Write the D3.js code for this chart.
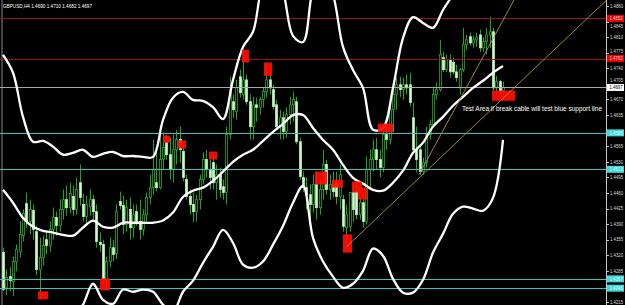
<!DOCTYPE html>
<html><head><meta charset="utf-8">
<script src="https://cdn.jsdelivr.net/npm/d3@7"></script>
<style>html,body{margin:0;padding:0;background:#000;overflow:hidden}</style>
</head><body><svg id="c" width="625" height="305"></svg>
<script>
// ---- data (GBPUSD, H4) ----
const symbolTitle = "GBPUSD,H4 1.4690 1.4710 1.4682 1.4697";
const note = "Test Area if break cable will test blue support line";
const open = [
1.4326,1.4248,1.4272,1.4261,1.4306,1.4328,1.4364,1.4436,1.4396,1.4421,
1.4373,1.4288,1.4315,1.4355,1.4342,1.4378,1.4405,1.4387,1.4423,1.4445,
1.4427,1.4452,1.4423,1.4483,1.4434,1.4407,1.4429,1.4445,1.4418,1.4349,
1.4344,1.4261,1.4306,1.4337,1.4324,1.4441,1.4432,1.4389,1.4423,1.4382,
1.4418,1.4396,1.4378,1.4411,1.4450,1.4472,1.4483,1.4472,1.4535,1.4573,
1.4546,1.4513,1.4557,1.4580,1.4553,1.4490,1.4452,1.4434,1.4418,1.4445,
1.4490,1.4535,1.4513,1.4528,1.4483,1.4501,1.4474,1.4461,1.4591,1.4665,
1.4643,1.4721,1.4681,1.4714,1.4665,1.4609,1.4658,1.4652,1.4670,1.4688,
1.4714,1.4692,1.4658,1.4609,1.4629,1.4598,1.4636,1.4658,1.4665,1.4575,
1.4495,1.4472,1.4456,1.4434,1.4479,1.4427,1.4468,1.4524,1.4468,1.4479,
1.4483,1.4452,1.4445,1.4382,1.4385,1.4461,1.4463,1.4411,1.4438,1.4396,
1.4513,1.4535,1.4557,1.4535,1.4517,1.4591,1.4580,1.4647,1.4681,1.4703,
1.4692,1.4703,1.4703,1.4629,1.4557,1.4557,1.4508,1.4528,1.4591,1.4614,
1.4681,1.4692,1.4764,1.4737,1.4759,1.4753,1.4732,1.4696,1.4737,1.4793,
1.4811,1.4797,1.4804,1.4815,1.4786,1.4800,1.4815,1.4822,1.4696,1.4710,
1.4690];
const high = [
1.4337,1.4288,1.4293,1.4317,1.4344,1.4396,1.4423,1.4461,1.4445,1.4434,
1.4387,1.4360,1.4364,1.4373,1.4396,1.4427,1.4418,1.4445,1.4468,1.4477,
1.4483,1.4477,1.4495,1.4524,1.4459,1.4454,1.4468,1.4456,1.4434,1.4371,
1.4355,1.4317,1.4360,1.4355,1.4434,1.4463,1.4454,1.4445,1.4450,1.4434,
1.4434,1.4445,1.4423,1.4461,1.4501,1.4580,1.4557,1.4591,1.4596,1.4591,
1.4584,1.4591,1.4602,1.4609,1.4569,1.4501,1.4468,1.4461,1.4456,1.4501,
1.4551,1.4557,1.4535,1.4546,1.4524,1.4517,1.4490,1.4609,1.4721,1.4681,
1.4714,1.4737,1.4782,1.4726,1.4681,1.4676,1.4674,1.4676,1.4696,1.4753,
1.4726,1.4703,1.4670,1.4647,1.4643,1.4652,1.4676,1.4688,1.4676,1.4584,
1.4508,1.4495,1.4479,1.4501,1.4508,1.4490,1.4557,1.4535,1.4501,1.4508,
1.4508,1.4524,1.4456,1.4434,1.4463,1.4479,1.4479,1.4450,1.4445,1.4542,
1.4557,1.4580,1.4584,1.4557,1.4614,1.4618,1.4670,1.4703,1.4719,1.4721,
1.4719,1.4726,1.4730,1.4663,1.4609,1.4569,1.4539,1.4609,1.4625,1.4699,
1.4708,1.4804,1.4777,1.4771,1.4771,1.4764,1.4748,1.4741,1.4831,1.4815,
1.4820,1.4813,1.4820,1.4827,1.4809,1.4831,1.4856,1.4831,1.4723,1.4714,
1.4710];
const low = [
1.4239,1.4230,1.4239,1.4228,1.4284,1.4315,1.4351,1.4382,1.4367,1.4355,
1.4275,1.4221,1.4297,1.4322,1.4328,1.4355,1.4364,1.4373,1.4400,1.4409,
1.4414,1.4409,1.4411,1.4432,1.4396,1.4387,1.4409,1.4400,1.4337,1.4328,
1.4257,1.4243,1.4293,1.4306,1.4311,1.4423,1.4367,1.4373,1.4355,1.4360,
1.4387,1.4355,1.4364,1.4396,1.4434,1.4456,1.4463,1.4468,1.4513,1.4535,
1.4490,1.4483,1.4524,1.4528,1.4486,1.4445,1.4411,1.4394,1.4396,1.4423,
1.4479,1.4495,1.4468,1.4468,1.4445,1.4450,1.4445,1.4434,1.4580,1.4629,
1.4625,1.4674,1.4670,1.4658,1.4580,1.4580,1.4620,1.4636,1.4652,1.4674,
1.4681,1.4647,1.4602,1.4580,1.4580,1.4584,1.4614,1.4620,1.4569,1.4490,
1.4463,1.4423,1.4385,1.4416,1.4400,1.4411,1.4445,1.4456,1.4445,1.4450,
1.4434,1.4423,1.4373,1.4328,1.4373,1.4396,1.4400,1.4400,1.4382,1.4389,
1.4472,1.4508,1.4513,1.4495,1.4506,1.4557,1.4569,1.4596,1.4647,1.4676,
1.4670,1.4681,1.4654,1.4553,1.4506,1.4501,1.4501,1.4517,1.4580,1.4607,
1.4670,1.4688,1.4732,1.4732,1.4719,1.4726,1.4710,1.4681,1.4732,1.4782,
1.4791,1.4786,1.4788,1.4777,1.4777,1.4771,1.4786,1.4688,1.4681,1.4681,
1.4682];
const close = [
1.4243,1.4270,1.4263,1.4306,1.4333,1.4367,1.4414,1.4396,1.4423,1.4378,
1.4288,1.4315,1.4342,1.4342,1.4378,1.4405,1.4387,1.4423,1.4445,1.4427,
1.4459,1.4423,1.4468,1.4450,1.4407,1.4434,1.4445,1.4418,1.4351,1.4344,
1.4266,1.4306,1.4337,1.4322,1.4418,1.4432,1.4389,1.4427,1.4382,1.4411,
1.4396,1.4378,1.4411,1.4450,1.4472,1.4513,1.4472,1.4535,1.4562,1.4546,
1.4513,1.4557,1.4580,1.4557,1.4495,1.4452,1.4434,1.4418,1.4445,1.4490,
1.4535,1.4513,1.4495,1.4483,1.4501,1.4468,1.4461,1.4591,1.4692,1.4647,
1.4696,1.4685,1.4714,1.4665,1.4609,1.4658,1.4652,1.4670,1.4688,1.4714,
1.4696,1.4654,1.4609,1.4629,1.4598,1.4636,1.4658,1.4670,1.4575,1.4497,
1.4472,1.4456,1.4434,1.4479,1.4427,1.4468,1.4524,1.4468,1.4479,1.4463,
1.4452,1.4501,1.4385,1.4411,1.4461,1.4423,1.4411,1.4438,1.4396,1.4513,
1.4535,1.4557,1.4535,1.4517,1.4591,1.4580,1.4647,1.4681,1.4703,1.4692,
1.4703,1.4696,1.4663,1.4557,1.4535,1.4508,1.4528,1.4591,1.4614,1.4681,
1.4692,1.4771,1.4737,1.4759,1.4732,1.4732,1.4719,1.4737,1.4793,1.4804,
1.4797,1.4804,1.4809,1.4786,1.4800,1.4815,1.4822,1.4696,1.4710,1.4688,
1.4697];

// Bollinger bands read every 3rd bar
const bandStep = 3;
const upperBand = [1.4770,1.4730,1.4631,1.4575,1.4577,1.4564,1.4546,1.4550,1.4557,1.4541,
1.4548,1.4552,1.4543,1.4543,1.4541,1.4541,1.4624,1.4674,1.4687,1.4669,
1.4667,1.4653,1.4626,1.4714,1.4788,1.4822,1.4927,1.4950,1.4911,1.4813,
1.4799,1.4916,1.4950,1.4905,1.4788,1.4736,1.4696,1.4602,1.4606,1.4696,
1.4808,1.4855,1.4842,1.4831,1.4871,1.4905,1.4934,1.4956,1.4972,1.4983,1.4994];
const midBand = [1.4467,1.4438,1.4404,1.4384,1.4375,1.4371,1.4366,1.4364,1.4382,1.4398,
1.4384,1.4382,1.4393,1.4393,1.4393,1.4393,1.4398,1.4416,1.4451,1.4465,
1.4472,1.4487,1.4508,1.4530,1.4546,1.4557,1.4577,1.4597,1.4615,1.4635,
1.4635,1.4606,1.4579,1.4557,1.4523,1.4494,1.4481,1.4467,1.4465,1.4483,
1.4510,1.4550,1.4573,1.4609,1.4631,1.4656,1.4676,1.4696,1.4712,1.4730,1.4745];
const lowerBand = [1.4153,1.4131,1.4119,1.4119,1.4131,1.4142,1.4158,1.4180,1.4209,1.4256,
1.4220,1.4211,1.4243,1.4238,1.4243,1.4238,1.4209,1.4193,1.4238,1.4263,
1.4303,1.4339,1.4377,1.4348,1.4299,1.4292,1.4306,1.4344,1.4386,1.4438,
1.4476,1.4359,1.4306,1.4272,1.4247,1.4256,1.4285,1.4335,1.4319,1.4267,
1.4236,1.4236,1.4265,1.4326,1.4368,1.4413,1.4429,1.4425,1.4420,1.4449,1.4579];

// horizontal levels
const levels = [1.4852, 1.4762, 1.4697, 1.4595, 1.4513, 1.4267, 1.4246];
const levelKinds = ["res", "res", "cur", "sup", "sup", "sup", "sup"];

// price axis tick labels
const tickLabels = ["1.4880","1.4845","1.4810","1.4775","1.4740","1.4705","1.4670","1.4635","1.4600","1.4565",
"1.4530","1.4495","1.4460","1.4425","1.4390","1.4355","1.4320","1.4285","1.4250","1.4215"];

// red marker zones (bar index from/to, price top/bottom)
const markerFrom = [10.5, 29.1, 48.0, 52.5, 61.8, 71.7, 78.3, 93.6, 98.7, 102.0, 104.7, 106.5, 112.5, 146.7];
const markerTo   = [13.5, 32.1, 50.1, 54.9, 64.2, 73.8, 80.7, 97.2, 102.0, 104.7, 107.7, 109.2, 117.0, 153.6];
const markerTop  = [1.4239, 1.4268, 1.4589, 1.4578, 1.4553, 1.4782, 1.4753, 1.4508, 1.4490, 1.4367, 1.4486, 1.4472, 1.4616, 1.4690];
const markerBot  = [1.4221, 1.4241, 1.4573, 1.4560, 1.4535, 1.4753, 1.4723, 1.4479, 1.4472, 1.4326, 1.4461, 1.4445, 1.4596, 1.4667];

// trend lines: [bar index, price] anchor pairs (drawn as rays)
const trendSteep = [[124.8, 1.4501], [150, 1.4848]];
const trendShallow = [[103.2, 1.4340], [180.9, 1.4892]];

// ---- drawing ----
const W = 625, H = 305, axisX = 606;
const svg = d3.select("#c");
svg.append("rect").attr("width", W).attr("height", H).attr("fill", "#000");

const n = close.length;
const x = d3.scaleLinear().domain([0, n - 1]).range([3, 503]);
const y = d3.scaleLinear().domain([1.4215, 1.4880]).range([302, 6]);

svg.append("defs").append("clipPath").attr("id", "plot")
  .append("rect").attr("x", 0).attr("y", 0).attr("width", axisX).attr("height", H);
const g = svg.append("g").attr("clip-path", "url(#plot)");

// left frame line
g.append("line").attr("x1", 2).attr("x2", 2).attr("y1", 0).attr("y2", H)
  .attr("stroke", "#8a8a8a").attr("stroke-width", 1);

// candles
const bars = d3.range(n).map(i => ({i, o: open[i], h: high[i], l: low[i], c: close[i]}));
const cg = g.append("g");
cg.selectAll("line.w").data(bars).join("line")
  .attr("x1", d => Math.round(x(d.i)) + 0.5).attr("x2", d => Math.round(x(d.i)) + 0.5)
  .attr("y1", d => y(d.h)).attr("y2", d => y(d.l))
  .attr("stroke", "#1fa51f").attr("stroke-width", 1);
cg.selectAll("rect.b").data(bars).join("rect")
  .attr("x", d => Math.round(x(d.i)) - 0.5)
  .attr("width", 2)
  .attr("y", d => y(Math.max(d.o, d.c)))
  .attr("height", d => Math.max(1, Math.abs(y(d.o) - y(d.c))))
  .attr("fill", d => d.c >= d.o ? "#000" : "#d2f7cf")
  .attr("stroke", d => d.c >= d.o ? "#22a822" : "#b8eeb5")
  .attr("stroke-width", 0.8);

// horizontal levels
const lineColor = {res: "#951515", cur: "#a9a9a9", sup: "#3fbfbf"};
g.selectAll("line.lv").data(levels).join("line")
  .attr("x1", 0).attr("x2", axisX)
  .attr("y1", d => Math.round(y(d)) + 0.5).attr("y2", d => Math.round(y(d)) + 0.5)
  .attr("stroke", (d, k) => lineColor[levelKinds[k]]).attr("stroke-width", 1);

// bands
const bandLine = d3.line().x((d, k) => x(k * bandStep)).y(d => y(d)).curve(d3.curveCatmullRom.alpha(0.5));
[upperBand, midBand, lowerBand].forEach(b => {
  g.append("path").attr("d", bandLine(b)).attr("fill", "none")
    .attr("stroke", "#fff").attr("stroke-width", 2.3).attr("stroke-linejoin", "round");
});

// markers
g.selectAll("rect.m").data(markerFrom).join("rect")
  .attr("x", (d, k) => x(d)).attr("width", (d, k) => x(markerTo[k]) - x(d))
  .attr("y", (d, k) => y(markerTop[k])).attr("height", (d, k) => y(markerBot[k]) - y(markerTop[k]))
  .attr("fill", "#ff0d00").attr("opacity", 0.93);

// trend rays
[trendSteep, trendShallow].forEach(t => {
  const x1 = x(t[0][0]), y1 = y(t[0][1]), x2 = x(t[1][0]), y2 = y(t[1][1]);
  const slope = (y2 - y1) / (x2 - x1);
  g.append("line").attr("x1", x1).attr("y1", y1).attr("x2", axisX).attr("y2", y1 + slope * (axisX - x1))
    .attr("stroke", "#b38f52").attr("stroke-width", 0.9);
});

// annotation
svg.append("text").attr("x", 462).attr("y", 110.5).text(note)
  .attr("fill", "#fff").attr("font-family", "Liberation Sans, Arial, sans-serif").attr("font-size", 7.3)
  .attr("textLength", 140).attr("lengthAdjust", "spacingAndGlyphs");

// header
svg.append("text").attr("x", 3).attr("y", 7.5).text(symbolTitle)
  .attr("fill", "#fff").attr("font-family", "Liberation Sans, Arial, sans-serif").attr("font-size", 5.8)
  .attr("textLength", 89).attr("lengthAdjust", "spacingAndGlyphs");

// price axis
svg.append("line").attr("x1", axisX + 0.5).attr("x2", axisX + 0.5).attr("y1", 0).attr("y2", H)
  .attr("stroke", "#c4c4c4").attr("stroke-width", 1);
const ax = svg.append("g");
// tick labels covered by a level label are hidden (as on the terminal); partly covered ones are nudged clear
const levelYs = levels.map(v => y(v));
const tickPlace = tickLabels.map(d => {
  const ty = y(+d);
  const near = levelYs.filter(ly => Math.abs(ly - ty) < 7.5);
  if (near.length === 0) return {d, ty, show: true};
  if (near.length > 1 || Math.abs(near[0] - ty) < 2.5) return {d, ty, show: false};
  const ny = ty < near[0] ? near[0] - 7.5 : near[0] + 7.5;
  const clash = levelYs.some(ly => ly !== near[0] && Math.abs(ly - ny) < 7.5);
  return {d, ty: ny, show: !clash};
});
ax.selectAll("line").data(tickLabels).join("line")
  .attr("x1", axisX).attr("x2", axisX + 3)
  .attr("y1", d => Math.round(y(+d)) + 0.5).attr("y2", d => Math.round(y(+d)) + 0.5)
  .attr("stroke", "#c4c4c4");
ax.selectAll("text").data(tickPlace.filter(t => t.show)).join("text")
  .attr("x", 610).attr("y", t => t.ty).attr("dy", "0.35em").text(t => t.d)
  .attr("fill", "#dcdcdc").attr("font-family", "Liberation Sans, Arial, sans-serif").attr("font-size", 5)
  .attr("textLength", 13).attr("lengthAdjust", "spacingAndGlyphs");

// level price labels
const labelBg = {res: "#ee0000", cur: "#ffffff", sup: "#3fd8d8"};
const labelFg = {res: "#ffd0d0", cur: "#000000", sup: "#e8ffff"};
const lb = svg.append("g");
lb.selectAll("rect").data(levels).join("rect")
  .attr("x", axisX + 1).attr("width", 17).attr("y", d => y(d) - 3.5).attr("height", 7)
  .attr("fill", (d, k) => labelBg[levelKinds[k]]);
lb.selectAll("text").data(levels).join("text")
  .attr("x", 609.5).attr("y", d => y(d)).attr("dy", "0.35em").text(d => d.toFixed(4))
  .attr("fill", (d, k) => labelFg[levelKinds[k]])
  .attr("font-family", "Liberation Sans, Arial, sans-serif").attr("font-size", 5)
  .attr("textLength", 13).attr("lengthAdjust", "spacingAndGlyphs");
</script>
</body></html>
